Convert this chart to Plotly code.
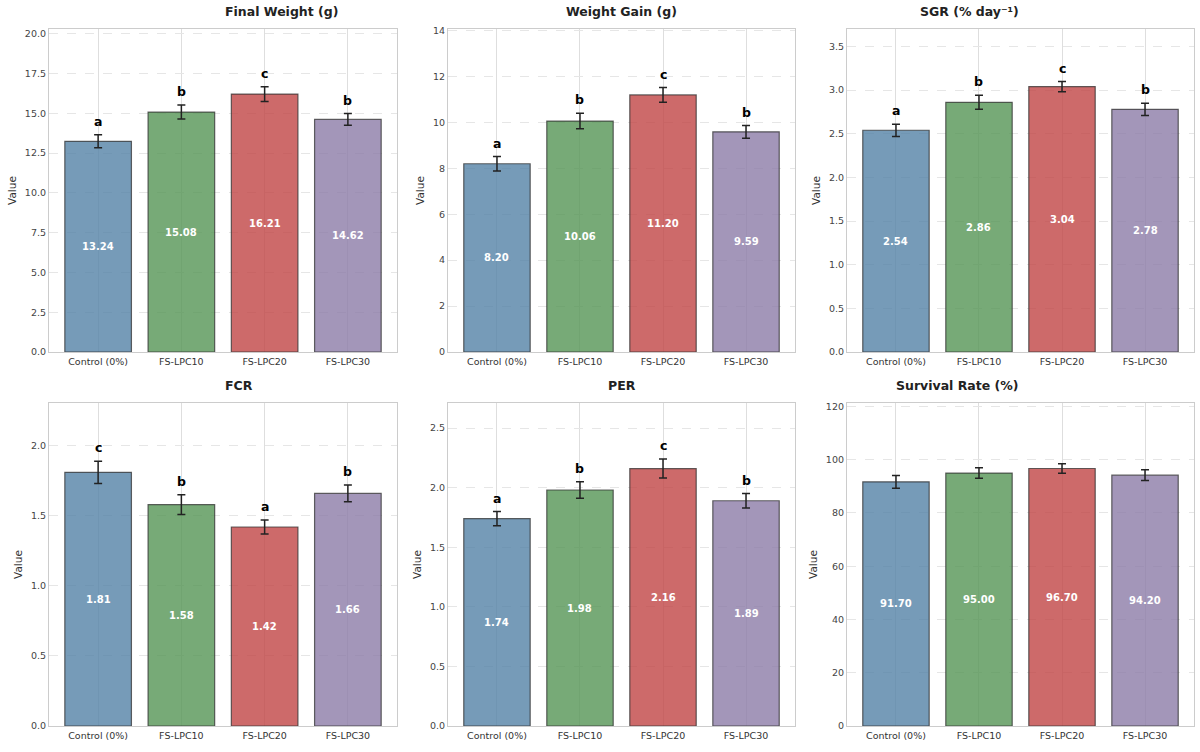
import plotly.graph_objects as go
from plotly.subplots import make_subplots

# Treatments and growth-performance data (mean, SD, significance letters)
groups = ["Control (0%)", "FS-LPC10", "FS-LPC20", "FS-LPC30"]

final_weight = [13.24, 15.08, 16.21, 14.62]
final_weight_sd = [0.41, 0.44, 0.46, 0.37]
final_weight_sig = ["a", "b", "c", "b"]

weight_gain = [8.20, 10.06, 11.20, 9.59]
weight_gain_sd = [0.32, 0.34, 0.32, 0.28]
weight_gain_sig = ["a", "b", "c", "b"]

sgr = [2.54, 2.86, 3.04, 2.78]
sgr_sd = [0.07, 0.08, 0.06, 0.07]
sgr_sig = ["a", "b", "c", "b"]

fcr = [1.81, 1.58, 1.42, 1.66]
fcr_sd = [0.08, 0.07, 0.05, 0.06]
fcr_sig = ["c", "b", "a", "b"]

per = [1.74, 1.98, 2.16, 1.89]
per_sd = [0.06, 0.07, 0.08, 0.06]
per_sig = ["a", "b", "c", "b"]

survival = [91.70, 95.00, 96.70, 94.20]
survival_sd = [2.4, 2.0, 1.8, 2.0]
survival_sig = None

panels = [
    ("Final Weight (g)", final_weight, final_weight_sd, final_weight_sig, 20.3, 2.5, ".1f"),
    ("Weight Gain (g)", weight_gain, weight_gain_sd, weight_gain_sig, 14.07, 2, "d"),
    ("SGR (% day⁻¹)", sgr, sgr_sd, sgr_sig, 3.70, 0.5, ".1f"),
    ("FCR", fcr, fcr_sd, fcr_sig, 2.305, 0.5, ".1f"),
    ("PER", per, per_sd, per_sig, 2.71, 0.5, ".1f"),
    ("Survival Rate (%)", survival, survival_sd, survival_sig, 121.3, 20, "d"),
]

colors = ["rgba(84,130,166,0.8)", "rgba(85,149,85,0.8)",
          "rgba(192,69,69,0.8)", "rgba(140,124,167,0.8)"]

W, H = 1200, 752
col_px = [(49, 397), (448, 795), (847, 1194)]
row_px = [(29, 352), (403, 726)]

fig = make_subplots(rows=2, cols=3)
FONT = "DejaVu Sans"

for i, (title, vals, sds, sig, ymax, dtick, fmt) in enumerate(panels):
    r, c = i // 3, i % 3
    fig.add_trace(go.Bar(
        x=groups, y=vals, width=0.8,
        marker=dict(color=colors, line=dict(color="rgba(50,50,50,0.75)", width=1.2)),
        error_y=dict(type="data", array=sds, color="#222222", thickness=1.5, width=4),
        showlegend=False,
    ), row=r + 1, col=c + 1)

    ax = "" if i == 0 else str(i + 1)
    x0, x1 = col_px[c]
    y0, y1 = row_px[r]
    fig.layout["xaxis" + ax].update(
        domain=[x0 / W, x1 / W], range=[-0.59, 3.59], automargin=False,
        showgrid=True, gridcolor="#dedede", gridwidth=1.2,
        showline=True, linecolor="#cccccc", linewidth=1.2, mirror=True,
        ticks="", tickfont=dict(size=9.5, color="#333333", family=FONT),
        zeroline=False,
    )
    fig.layout["yaxis" + ax].update(
        domain=[1 - y1 / H, 1 - y0 / H], range=[0, ymax], dtick=dtick, tickformat=fmt,
        automargin=False,
        showgrid=True, gridcolor="#e6e6e6", griddash="dash", gridwidth=1,
        showline=True, linecolor="#cccccc", linewidth=1.2, mirror=True,
        ticks="", tickfont=dict(size=9.5, color="#444444", family=FONT),
        zeroline=False,
        title=dict(text="Value", font=dict(size=10.5, color="#333333", family=FONT), standoff=6),
    )

    # panel title
    fig.add_annotation(
        x=(x0 + x1) / 2 / W, y=1 - (y0 - 8) / H, xref="paper", yref="paper",
        text="<b>%s</b>" % title, showarrow=False, yanchor="bottom",
        font=dict(size=12.5, color="#222222", family=FONT),
    )

    xref = "x" + ax
    yref = "y" + ax
    for g, v, s in zip(groups, vals, sds):
        fig.add_annotation(
            x=g, y=v / 2, xref=xref, yref=yref, text="<b>%.2f</b>" % v,
            showarrow=False, font=dict(size=10, color="white", family=FONT),
        )
    if sig:
        for g, v, s, l in zip(groups, vals, sds, sig):
            fig.add_annotation(
                x=g, y=v + s + ymax * 0.012, xref=xref, yref=yref, text="<b>%s</b>" % l,
                showarrow=False, yanchor="bottom",
                font=dict(size=12.5, color="black", family=FONT),
            )

fig.update_layout(
    width=W, height=H, margin=dict(l=0, r=0, t=0, b=0, autoexpand=False),
    paper_bgcolor="white", plot_bgcolor="white",
    font=dict(family=FONT), bargap=0.2,
)

fig.write_html("out.html", config={"displayModeBar": False},
               post_script="document.body.style.margin='0';")
